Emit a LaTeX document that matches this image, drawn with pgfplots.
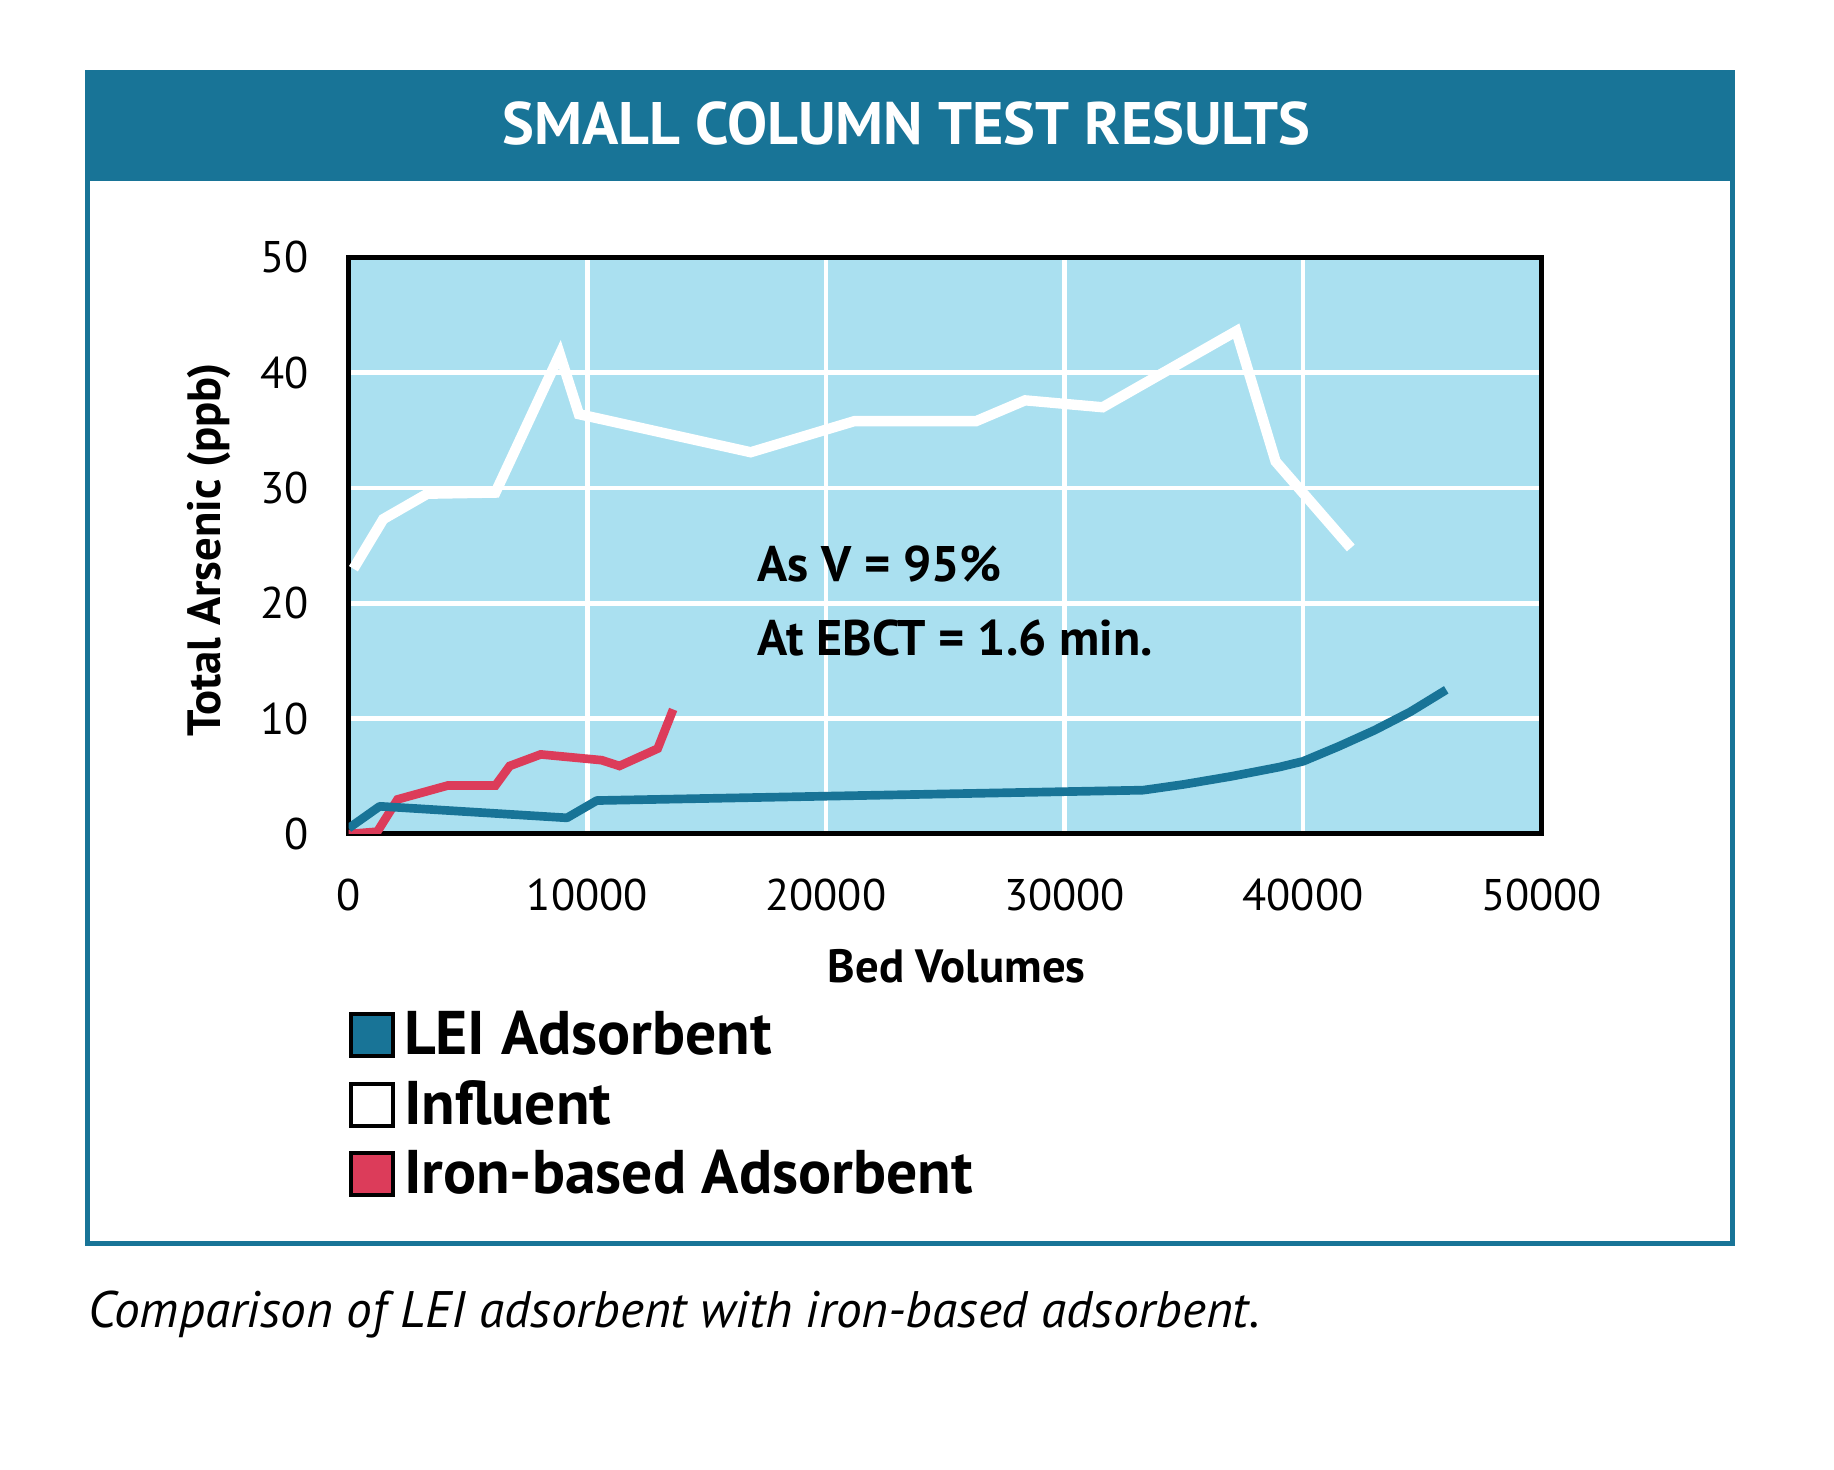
\documentclass[border=0pt]{standalone}
\usepackage{fontspec}
\setmainfont{PT Sans}
\usepackage{pgfplots}
\pgfplotsset{compat=1.18}
\definecolor{leiblue}{HTML}{187497}
\definecolor{plotbg}{HTML}{AAE0F0}
\definecolor{ironred}{HTML}{DC3C5A}

\begin{document}
\begin{tikzpicture}[x=1pt,y=1pt]
% page and frame
\fill[white] (0,0) rectangle (550.2,440.7);
\fill[leiblue] (26.3,386.3) rectangle (519.7,419.0);
\draw[leiblue, line width=1.6pt] (26.3,67.7) rectangle (519.7,419.0);
\node[white, font=\fontsize{18}{20}\selectfont\bfseries] at (272,403.5) {SMALL COLUMN TEST RESULTS};
\node[anchor=base west, inner sep=0pt, font=\fontsize{15.4}{17}\selectfont\itshape] at (26.3,42.4) {Comparison of LEI adsorbent with iron-based adsorbent.};

\begin{axis}[
  at={(104.6pt,190.5pt)}, anchor=south west,
  scale only axis, width=357.9pt, height=173pt,
  xmin=0, xmax=50000, ymin=0, ymax=50,
  xtick={0,10000,...,50000}, ytick={0,10,...,50},
  scaled x ticks=false,
  /pgf/number format/1000 sep={},
  /pgf/number format/assume math mode=true,
  major tick length=0pt,
  axis background/.style={fill=plotbg},
  axis line style={black, line width=1.5pt},
  grid=major,
  major grid style={white, line width=1.4pt},
  ticklabel style={font=\fontsize{13.3}{15}\selectfont},
  xticklabel style={yshift=-10pt},
  yticklabel style={xshift=-8.5pt},
  xlabel={Bed Volumes},
  ylabel={Total Arsenic (ppb)},
  every axis x label/.style={at={(axis description cs:0.5096,-0.229)}, anchor=center,
    font=\fontsize{14}{16}\selectfont\bfseries},
  every axis y label/.style={at={(axis description cs:-0.1174,0.493)}, rotate=90, anchor=center,
    font=\fontsize{14}{16}\selectfont\bfseries},
  legend cell align=left,
  legend style={at={(axis description cs:0.0,-0.30)}, anchor=north west,
    draw=none, fill=none, inner sep=0pt, row sep=4.2pt,
    font=\fontsize{18.5}{21}\selectfont\bfseries,
    nodes={inner xsep=2.6pt, inner ysep=1pt}},
]
\addlegendimage{legend image code/.code={\draw[black,line width=1.2pt,fill=leiblue] (0pt,-6.3pt) rectangle (12.6pt,6.3pt);}}
\addlegendentry{LEI Adsorbent}
\addlegendimage{legend image code/.code={\draw[black,line width=1.2pt,fill=white] (0pt,-6.3pt) rectangle (12.6pt,6.3pt);}}
\addlegendentry{Influent}
\addlegendimage{legend image code/.code={\draw[black,line width=1.2pt,fill=ironred] (0pt,-6.3pt) rectangle (12.6pt,6.3pt);}}
\addlegendentry{Iron-based Adsorbent}

% Influent
\addplot[white, line width=3.1pt, line join=miter, forget plot] coordinates {
(200,23.0) (1450,27.3) (3300,29.5) (6150,29.6) (8850,41.6) (9650,36.4)
(16850,33.1) (21200,35.8) (26300,35.8) (28350,37.6) (31600,37.0)
(37200,43.6) (38850,32.3) (42000,24.8)};
% Iron-based adsorbent
\addplot[ironred, line width=2.6pt, line join=miter, forget plot] coordinates {
(0,0.0) (1200,0.2) (2050,3.0) (4150,4.2) (6150,4.2) (6750,5.9) (8050,6.9)
(10600,6.4) (11350,5.9) (12950,7.4) (13600,10.8)};
% LEI adsorbent
\addplot[leiblue, line width=2.6pt, line join=round, forget plot] coordinates {
(0,0.5) (1300,2.4) (9150,1.4) (10400,2.9) (33300,3.8) (35000,4.3) (37000,5.0)
(39000,5.8) (40000,6.3) (41500,7.6) (43000,9.0) (44500,10.6) (46000,12.5)};

\node[anchor=base west, inner sep=0pt, font=\fontsize{15}{17}\selectfont\bfseries] at (axis cs:17107,21.9) {As V = 95\%};
\node[anchor=base west, inner sep=0pt, font=\fontsize{15}{17}\selectfont\bfseries] at (axis cs:17107,15.5) {At EBCT = 1.6 min.};
\end{axis}
\end{tikzpicture}
\end{document}
